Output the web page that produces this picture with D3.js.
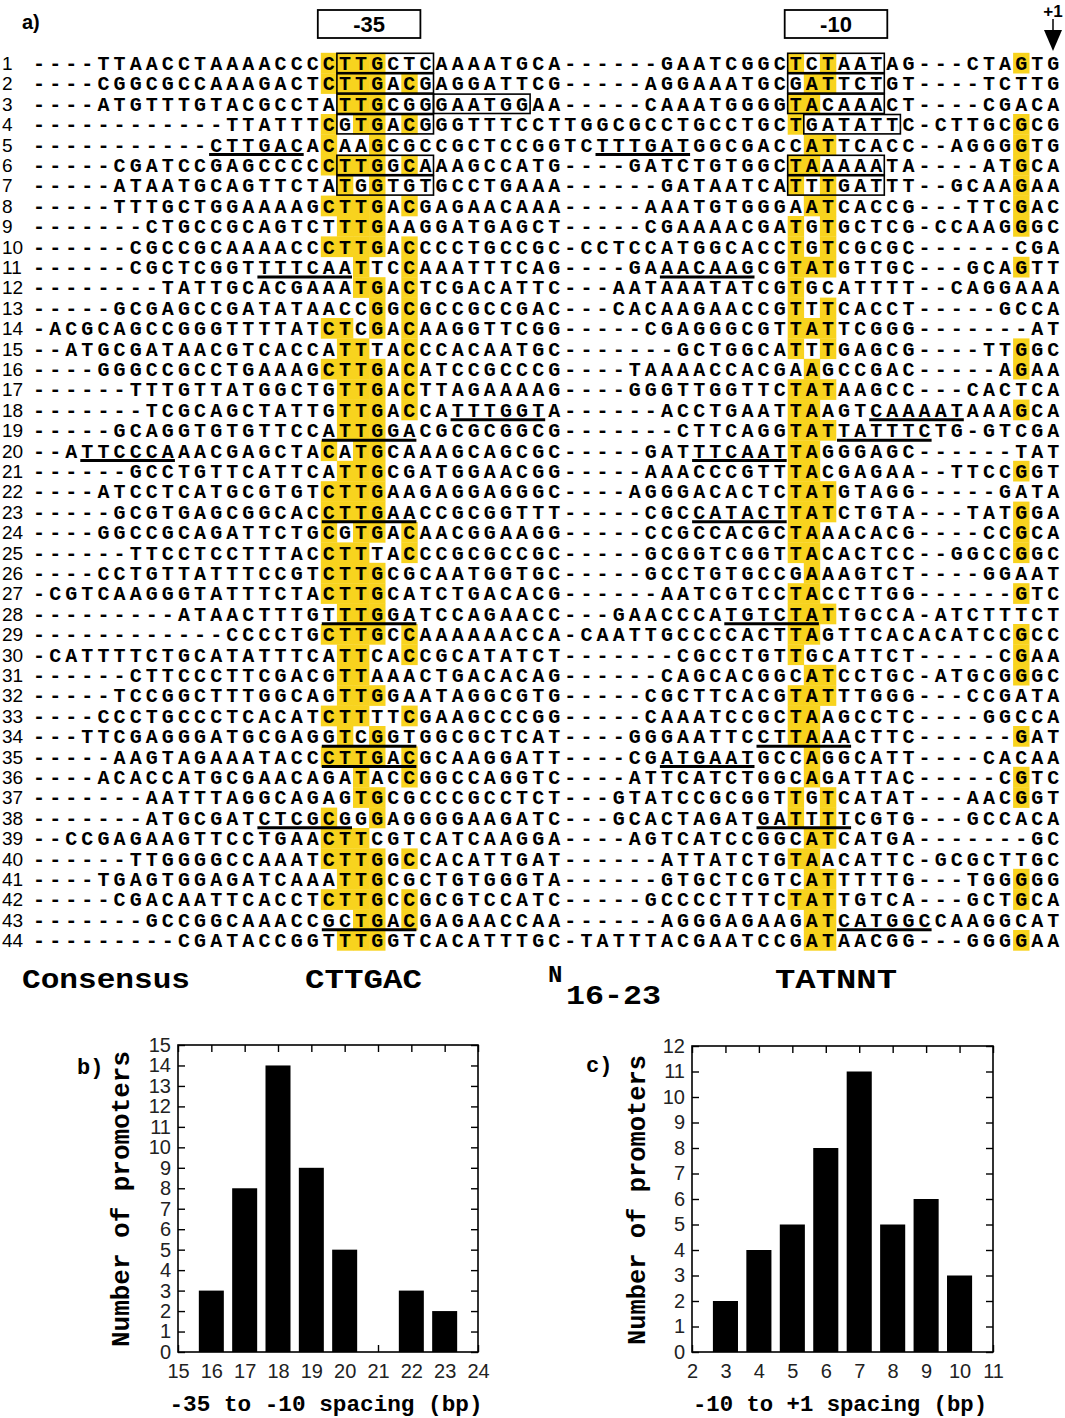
<!DOCTYPE html>
<html><head><meta charset="utf-8">
<script src="https://cdn.jsdelivr.net/npm/d3@7"></script>
<style>body{margin:0;background:#fff}svg{display:block}</style>
</head><body>
<svg id="fig" width="1065" height="1418"></svg>
<script>
// ---------- DATA ----------
const rowNumbers = d3.range(1, 45);
const sequences = [
"----TTAACCTAAAACCCCTTGCTCAAAATGCA------GAATCGGCTCTAATAG---CTAGTG",
"----CGGCGCCAAAGACTCTTGACGAGGATTCG-----AGGAAATGCGATTCTGT----TCTTG",
"----ATGTTTGTACGCCTATTGCGGGAATGGAA-----CAAATGGGGTACAAACT----CGACA",
"------------TTATTTCGTGACGGGTTTCCTTGGCGCCTGCCTGCTGATATTC-CTTGCGCG",
"-----------CTTGACACAAGCGCCGCTCCGGTCTTTGATGGCGACCATTCACC--AGGGGTG",
"-----CGATCCGAGCCCCCTTGGCAAAGCCATG----GATCTGTGGCTAAAAATA----ATGCA",
"-----ATAATGCAGTTCTATGGTGTGCCTGAAA------GATAATCATTTGATTT--GCAAGAA",
"-----TTTGCTGGAAAAGCTTGACGAGAACAAA-----AAATGTGGGAATCACCG---TTCGAC",
"-------CTGCCGCAGTCTTTGAAGGATGAGCT-----CGAAAACGATGTGCTCG-CCAAGGGC",
"------CGCCGCAAAACCCTTGACCCCTGCCGC-CCTCCATGGCACCTGTCGCGC------CGA",
"------CGCTCGGTTTTCAATTCCAAATTTCAG----GAAACAAGCGTATGTTGC---GCAGTT",
"--------TATTGCACGAAATGACTCGACATTC---AATAAATATCGTGCATTTT--CAGGAAA",
"-----GCGAGCCGATATAACCGGCGCCGCCGAC---CACAAGAACCGTTTCACCT-----GCCA",
"-ACGCAGCCGGGTTTTATCTCGACAAGGTTCGG-----CGAGGGCGTTATTCGGG-------AT",
"--ATGCGATAACGTCACCATTTACCCACAATGC-------GCTGGCATTTGAGCG----TTGGC",
"----GGGCCGCCTGAAAGCTTGACATCCGCCCG----TAAAACCACGAAGCCGAC-----AGAA",
"------TTTGTTATGGCTGTTGACTTAGAAAAG----GGGTTGGTTCTATAAGCC---CACTCA",
"-------TCGCAGCTATTGTTGACCATTTGGTA------ACCTGAATTAAGTCAAAATAAAGCA",
"-----GCAGGTGTGTTCCATTGGACGCGCGGCG-------CTTCAGGTATTATTTCTG-GTCGA",
"--ATTCCCAAACGAGCTACATGCAAAGCAGCGC-----GATTTCAATTAGGGAGC------TAT",
"------GCCTGTTCATTCATTGCGATGGAACGG-----AAACCCGTTTACGAGAA--TTCCGGT",
"----ATCCTCATGCGTGTCTTGAAGAGGAGGGC----AGGGACACTCTATGTAGG-----GATA",
"-----GCGTGAGCGGCACCTTGAACCGCGGTTT-----CGCCATACTTATCTGTA---TATGGA",
"----GGCCGCAGATTCTGCGTGACAACGGAAGG-----CCGCCACGCTAAACACG----CCGCA",
"------TTCCTCCTTTACCTTTACCCGCGCCGC-----GCGGTCGGTTACACTCC--GGCCGGC",
"----CCTGTTATTTCCGTCTTGCGCAATGGTGC-----GCCTGTGCCGAAAGTCT----GGAAT",
"-CGTCAAGGGTATTTCTACTTGCATCTGACACG------AATCGTCCTACCTTGG------GTC",
"---------ATAACTTTGTTTGGATCCAGAACC---GAACCCATGTCTATTGCCA-ATCTTTCT",
"------------CCCCTGCTTGCCAAAAAACCA-CAATTGCCCCACTTAGTTCACACATCCGCC",
"-CATTTTCTGCATATTTCATTCACCGCATATCT-------CGCCTGTTGCATTCT-----CGAA",
"------CTTCCCTTCGACGTTAAACTGACACAG------CAGCACGGCATCCTGC-ATGCGGGC",
"-----TCCGGCTTTGGCAGTTGGAATAGGCGTG-----CGCTTCACGTATTTGGG---CCGATA",
"----CCCTGCCCTCACATCTTTTCGAAGCCCGG-----CAAATCCGCTAAGCCTC----GGCCA",
"---TTCGAGGGATGCGAGGTCGGTGGCGCTCAT----GGGAATTCCTTAAACTTC------GAT",
"-----AAGTAGAAATACCCTTGACGCAAGGATT----CGATGAATGCCAGGCATT----CACAA",
"----ACACCATGCGAACAGATACCGGCCAGGTC----ATTCATCTGGCAGATTAC-----CGTC",
"-------AATTTAGGCAGAGTGCGCCCGCCTCT---GTATCCGCGGTTGTCATAT---AACGGT",
"-------ATGCGATCTCGCGGGAGGGGAAGATC---GCACTAGATGATTTTCGTG---GCCACA",
"--CCGAGAAGTTCCTGAACTTCGTCATCAAGGA----AGTCATCCGGCATCATGA-------GC",
"------TTGGGGCCAAATCTTGGCCACATTGAT------ATTATCTGTAACATTC-GCGCTTGC",
"----TGAGTGGAGATCAAATTGCGCTGTGGGTA------GTGCTCGTCATTTTTG---TGGGGG",
"-----CGACAATTCACCTCTTGCCGCGTCCATC-----GCCCCTTTCTATTGTCA---GCTGCA",
"-------GCCGGCAAACCGCTGACGAGAACCAA------AGGGAGAAGATCATGGCCAAGGCAT",
"---------CGATACCGGTTTGGTCACATTTGC-TATTTACGAATCCGATAACGG---GGGGAA"
];
// conserved alignment columns (column index -> consensus base)
const conservedColumns = [18, 19, 20, 21, 23, 47, 48, 49, 61];
const conservedBases   = ["C","T","T","G","C","T","A","T","G"];
// boxed hexamers: [row, firstCol, lastCol]
const boxedMotifs = [
  [1,19,24],[1,47,52],[2,19,24],[2,47,52],[3,19,24],[3,25,30],[3,47,52],
  [4,19,24],[4,48,53],[6,19,24],[6,47,52],[7,19,24],[7,47,52]
];
// underlined hexamers: [row, firstCol, lastCol]
const underlinedMotifs = [
  [5,11,16],[5,35,40],[11,14,19],[11,39,44],[18,26,31],[18,52,57],
  [19,18,23],[19,50,55],[20,3,8],[20,41,46],[23,18,23],[23,41,46],
  [28,18,23],[28,43,48],[34,18,23],[34,45,50],[35,18,23],[35,39,44],
  [38,14,19],[38,45,50],[43,18,23],[43,50,55]
];
const headerLabels = ["-35", "-10"];
const headerCols = [[18,23],[47,52]];
const consensusLabels = ["Consensus", "CTTGAC", "TATNNT"];

const spacingB = [16, 17, 18, 19, 20, 21, 22, 23];
const countsB  = [3, 8, 14, 9, 5, 0, 3, 2];
const xTicksB  = [15, 16, 17, 18, 19, 20, 21, 22, 23, 24];
const yTicksB  = [0,1,2,3,4,5,6,7,8,9,10,11,12,13,14,15];

const spacingC = [3, 4, 5, 6, 7, 8, 9, 10];
const countsC  = [2, 4, 5, 8, 11, 5, 6, 3];
const xTicksC  = [2, 3, 4, 5, 6, 7, 8, 9, 10, 11];
const yTicksC  = [0,1,2,3,4,5,6,7,8,9,10,11,12];

// ---------- DRAW ----------
const svg = d3.select("#fig");
const MONO = "'Liberation Mono','Courier New',monospace";
const SANS = "'Liberation Sans',Arial,sans-serif";
const YELLOW = "#F8D31E";

const nCols = 64, pitch = 16.1, rowH = 20.4;
const x = d3.scaleLinear().domain([0, nCols]).range([31, 31 + nCols * pitch]);
const y = d3.scaleLinear().domain([1, 44]).range([63, 63 + 43 * rowH]);

const consMap = new Map(conservedColumns.map((c, i) => [c, conservedBases[i]]));

// yellow highlights
const cells = [];
sequences.forEach((s, i) => {
  if (s.length !== nCols) console.warn("row", i + 1, "length", s.length);
  s.split("").forEach((ch, c) => {
    if (consMap.has(c) && consMap.get(c) === ch) cells.push({row: i + 1, col: c});
  });
});
svg.append("g").selectAll("rect").data(cells).join("rect")
  .attr("x", d => x(d.col)).attr("y", d => y(d.row) - rowH / 2)
  .attr("width", pitch + 0.3).attr("height", rowH + 0.3)
  .attr("fill", YELLOW);

// letters
const letters = [];
sequences.forEach((s, i) => s.split("").forEach((ch, c) => letters.push({row: i + 1, col: c, ch})));
svg.append("g").attr("font-family", MONO).attr("font-weight", "bold").attr("font-size", 20)
  .attr("text-anchor", "middle")
  .selectAll("text").data(letters).join("text")
  .attr("x", d => x(d.col + 0.5)).attr("y", d => y(d.row) + 7)
  .text(d => d.ch);

// row numbers
svg.append("g").attr("font-family", SANS).attr("font-size", 19)
  .selectAll("text").data(rowNumbers).join("text")
  .attr("x", 2).attr("y", d => y(d) + 7).text(d => d);

// boxes
svg.append("g").selectAll("rect").data(boxedMotifs).join("rect")
  .attr("x", d => x(d[1])).attr("y", d => y(d[0]) - rowH / 2 + 0.5)
  .attr("width", d => x(d[2] + 1) - x(d[1])).attr("height", rowH - 1)
  .attr("fill", "none").attr("stroke", "#000").attr("stroke-width", 1.6);

// underlines
svg.append("g").selectAll("line").data(underlinedMotifs).join("line")
  .attr("x1", d => x(d[1]) + 1).attr("x2", d => x(d[2] + 1) - 1)
  .attr("y1", d => y(d[0]) + 10).attr("y2", d => y(d[0]) + 10)
  .attr("stroke", "#000").attr("stroke-width", 3);

// header
svg.append("text").attr("x", 22).attr("y", 29).attr("font-family", SANS)
  .attr("font-weight", "bold").attr("font-size", 20).text("a)");
headerLabels.forEach((lab, i) => {
  const [c0, c1] = headerCols[i];
  svg.append("rect").attr("x", x(c0) - 3).attr("y", 10)
    .attr("width", x(c1 + 1) - x(c0) + 6).attr("height", 28)
    .attr("fill", "none").attr("stroke", "#000").attr("stroke-width", 1.8);
  svg.append("text").attr("x", (x(c0) + x(c1 + 1)) / 2).attr("y", 32)
    .attr("text-anchor", "middle").attr("font-family", SANS).attr("font-weight", "bold")
    .attr("font-size", 22).text(lab);
});
const ax = 1053;
svg.append("text").attr("x", ax).attr("y", 17).attr("text-anchor", "middle")
  .attr("font-family", SANS).attr("font-weight", "bold").attr("font-size", 17).text("+1");
svg.append("line").attr("x1", ax).attr("x2", ax).attr("y1", 19).attr("y2", 31)
  .attr("stroke", "#000").attr("stroke-width", 1.5);
svg.append("path").attr("d", `M${ax - 9},30 L${ax + 9},30 L${ax},51 Z`).attr("fill", "#000");

// consensus line
svg.append("text").attr("x", 22).attr("y", 988).attr("font-family", MONO)
  .attr("font-weight", "bold").attr("font-size", 28).attr("textLength", 168)
  .attr("lengthAdjust", "spacingAndGlyphs").text(consensusLabels[0]);
svg.append("text").attr("x", 305).attr("y", 988).attr("font-family", MONO)
  .attr("font-weight", "bold").attr("font-size", 28).attr("textLength", 117)
  .attr("lengthAdjust", "spacingAndGlyphs").text(consensusLabels[1]);
svg.append("text").attr("x", 775).attr("y", 988).attr("font-family", MONO)
  .attr("font-weight", "bold").attr("font-size", 28).attr("textLength", 122)
  .attr("lengthAdjust", "spacingAndGlyphs").text(consensusLabels[2]);
svg.append("text").attr("x", 548).attr("y", 982).attr("font-family", MONO)
  .attr("font-weight", "bold").attr("font-size", 24).text("N");
svg.append("text").attr("x", 566).attr("y", 1004).attr("font-family", MONO)
  .attr("font-weight", "bold").attr("font-size", 28).attr("textLength", 95)
  .attr("lengthAdjust", "spacingAndGlyphs").text("16-23");

// ---------- HISTOGRAMS ----------
function histogram(o) {
  const g = svg.append("g");
  const xs = d3.scaleLinear().domain(o.xDomain).range([o.left, o.right]);
  const ys = d3.scaleLinear().domain(o.yDomain).range([o.bottom, o.top]);
  g.selectAll("rect.bar").data(o.cats.map((c, i) => ({c, v: o.vals[i]}))).join("rect")
    .attr("class", "bar")
    .attr("x", d => xs(d.c - 0.375)).attr("width", d => xs(d.c + 0.375) - xs(d.c - 0.375))
    .attr("y", d => ys(d.v)).attr("height", d => ys(0) - ys(d.v)).attr("fill", "#000");
  const styleAxis = sel => {
    sel.select(".domain").remove();
    sel.selectAll("line").attr("stroke", "#000").attr("stroke-width", 1.4);
    sel.selectAll("text").attr("font-family", SANS).attr("font-size", 20).attr("fill", "#222");
  };
  g.append("g").attr("transform", `translate(0,${o.bottom})`)
    .call(d3.axisBottom(xs).tickValues(o.xTicks).tickSize(-7).tickPadding(12).tickFormat(d3.format("d")))
    .call(styleAxis);
  g.append("g").attr("transform", `translate(0,${o.top})`)
    .call(d3.axisTop(xs).tickValues(o.xTicks).tickSize(-7).tickFormat(""))
    .call(styleAxis);
  g.append("g").attr("transform", `translate(${o.left},0)`)
    .call(d3.axisLeft(ys).tickValues(o.yTicks).tickSize(-7).tickPadding(7).tickFormat(d3.format("d")))
    .call(styleAxis);
  g.append("g").attr("transform", `translate(${o.right},0)`)
    .call(d3.axisRight(ys).tickValues(o.yTicks).tickSize(-7).tickFormat(""))
    .call(styleAxis);
  g.append("rect").attr("x", o.left).attr("y", o.top)
    .attr("width", o.right - o.left).attr("height", o.bottom - o.top)
    .attr("fill", "none").attr("stroke", "#000").attr("stroke-width", 1.6);
  // labels
  g.append("text").attr("x", o.tagX).attr("y", o.tagY).attr("font-family", MONO)
    .attr("font-weight", "bold").attr("font-size", 22).text(o.tag);
  g.append("text").attr("transform", `translate(${o.yLabX + 8},${o.yLabY}) rotate(-90)`)
    .attr("text-anchor", "middle").attr("font-family", MONO).attr("font-weight", "bold")
    .attr("font-size", 26).attr("textLength", o.yLabLen).attr("lengthAdjust", "spacingAndGlyphs")
    .text("Number of promoters");
  g.append("text").attr("x", o.xLabX).attr("y", 1411).attr("text-anchor", "middle")
    .attr("font-family", MONO).attr("font-weight", "bold").attr("font-size", 22)
    .attr("textLength", o.xLabLen).attr("lengthAdjust", "spacingAndGlyphs").text(o.xLab);
}

histogram({
  cats: spacingB, vals: countsB, xDomain: [15, 24], yDomain: [0, 15],
  left: 178, right: 478, top: 1045, bottom: 1352, xTicks: xTicksB, yTicks: yTicksB,
  tag: "b)", tagX: 77, tagY: 1074, yLabX: 121, yLabY: 1199, yLabLen: 296,
  xLab: "-35 to -10 spacing (bp)", xLabX: 326, xLabLen: 313
});
histogram({
  cats: spacingC, vals: countsC, xDomain: [2, 11], yDomain: [0, 12],
  left: 692, right: 993, top: 1046, bottom: 1352, xTicks: xTicksC, yTicks: yTicksC,
  tag: "c)", tagX: 586, tagY: 1072, yLabX: 637, yLabY: 1200, yLabLen: 290,
  xLab: "-10 to +1 spacing (bp)", xLabX: 840, xLabLen: 294
});
</script>
</body></html>
